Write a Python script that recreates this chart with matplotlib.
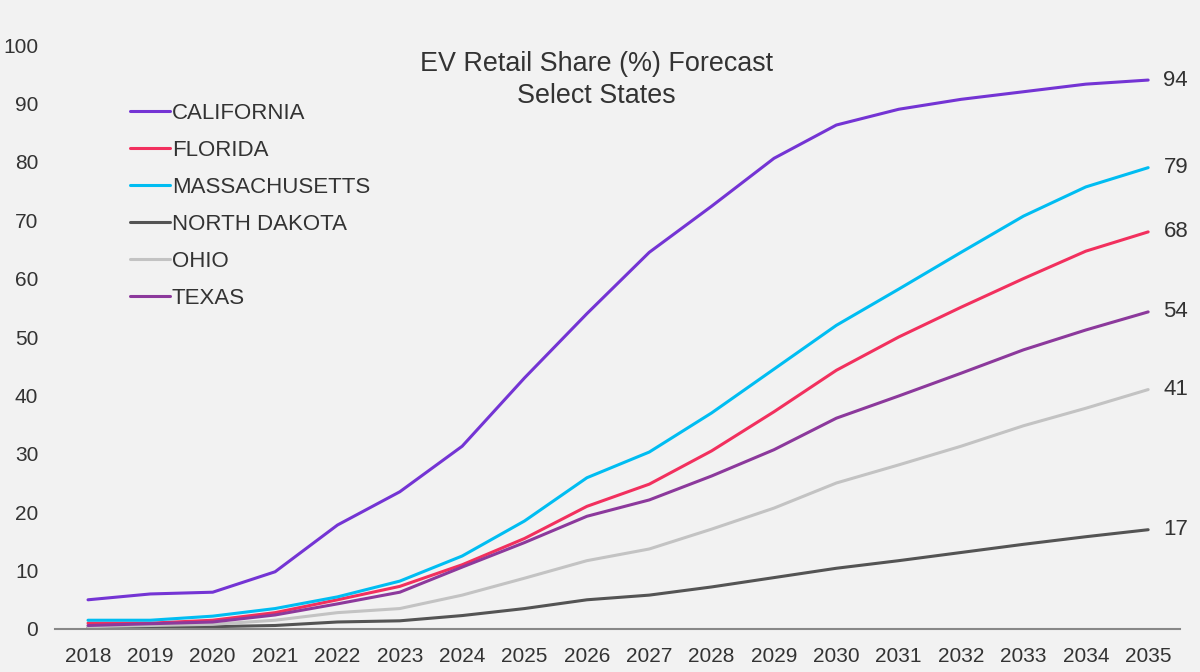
import matplotlib
matplotlib.use('Agg')
import matplotlib.pyplot as plt

# data
years = [str(y) for y in range(2018, 2036)]

california = [5.0, 6.0, 6.3, 9.8, 17.8, 23.5, 31.3, 43.0, 54.0, 64.5, 72.4, 80.6, 86.3, 89.0, 90.7, 92.0, 93.3, 94.0]
florida = [1.0, 1.0, 1.5, 2.8, 5.0, 7.3, 11.0, 15.5, 21.0, 24.8, 30.5, 37.2, 44.3, 50.0, 55.1, 60.0, 64.7, 68.0]
massachusetts = [1.5, 1.5, 2.2, 3.5, 5.5, 8.2, 12.5, 18.5, 25.9, 30.3, 37.0, 44.5, 52.0, 58.2, 64.5, 70.7, 75.7, 79.0]
north_dakota = [0.2, 0.3, 0.4, 0.6, 1.2, 1.4, 2.3, 3.5, 5.0, 5.8, 7.2, 8.8, 10.4, 11.7, 13.1, 14.5, 15.8, 17.0]
ohio = [0.4, 0.6, 0.8, 1.5, 2.8, 3.5, 5.8, 8.7, 11.7, 13.7, 17.1, 20.7, 25.0, 28.1, 31.3, 34.8, 37.8, 41.0]
texas = [0.6, 0.9, 1.2, 2.4, 4.3, 6.3, 10.6, 14.8, 19.3, 22.1, 26.2, 30.7, 36.1, 39.9, 43.8, 47.8, 51.2, 54.3]

states = ['CALIFORNIA', 'FLORIDA', 'MASSACHUSETTS', 'NORTH DAKOTA', 'OHIO', 'TEXAS']
series = [california, florida, massachusetts, north_dakota, ohio, texas]
end_labels = ['94', '68', '79', '17', '41', '54']
colors = ['#7434d4', '#f2305e', '#00bdf2', '#545454', '#c3c3c3', '#8c399c']

bg = '#f2f2f2'
txt = '#333333'
plt.rcParams['font.family'] = ['Liberation Sans', 'DejaVu Sans']

fig = plt.figure(figsize=(12, 6.72), dpi=100, facecolor=bg)
ax = fig.add_axes([0.0458, 0.064, 0.9375, 0.869])
ax.set_facecolor(bg)

x = list(range(len(years)))
for name, vals, col, lab in zip(states, series, colors, end_labels):
    ax.plot(x, vals, color=col, linewidth=2.2, label=name, solid_capstyle='round')
    ax.annotate(lab, xy=(x[-1], vals[-1]), xytext=(11, 0), textcoords='offset points',
                va='center', ha='left', fontsize=16, color=txt)

ax.set_xlim(-0.53, 17.51)
ax.set_ylim(0, 100)
ax.set_xticks(x)
ax.set_xticklabels(years)
ax.set_yticks(range(0, 101, 10))
ax.tick_params(axis='both', length=0, labelsize=15, labelcolor=txt)
ax.tick_params(axis='x', pad=13)
ax.tick_params(axis='y', pad=12)

for s in ['top', 'right', 'left']:
    ax.spines[s].set_visible(False)
ax.spines['bottom'].set_color('#888888')
ax.spines['bottom'].set_linewidth(1.5)

# title sits inside the plot area
fig.text(0.497, 0.881, 'EV Retail Share (%) Forecast\nSelect States', ha='center', va='center',
         fontsize=19.4, color=txt, linespacing=1.3)

leg = ax.legend(loc='upper left', bbox_to_anchor=(0.108, 0.847), bbox_transform=fig.transFigure,
                frameon=False, fontsize=16, handlelength=1.8, handletextpad=0.1,
                labelspacing=0.72, borderpad=0, borderaxespad=0)
for t in leg.get_texts():
    t.set_color(txt)

plt.savefig('out.png', dpi=100, facecolor=bg)
plt.close()
